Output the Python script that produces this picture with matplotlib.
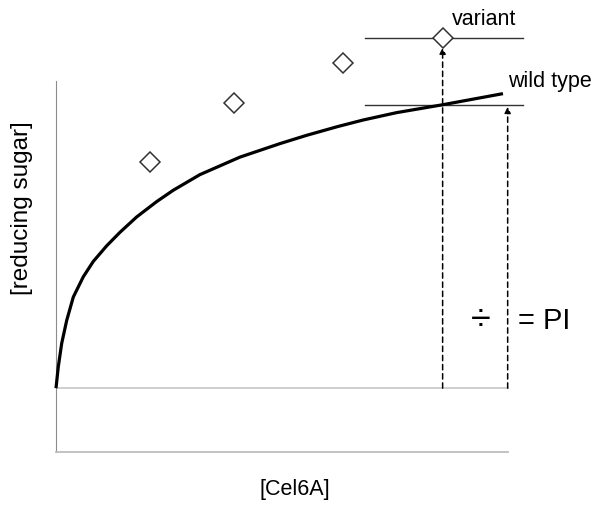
import numpy as np
import matplotlib.pyplot as plt

plt.rcParams['font.family'] = ['Liberation Sans', 'DejaVu Sans']

# wild type curve (arbitrary units)
wt_x = [0.0, 0.05, 0.126, 0.237, 0.383, 0.604, 0.825, 1.122, 1.416, 1.785,
        2.228, 2.595, 3.186, 4.071, 4.956, 5.546, 6.245, 6.799, 7.538, 8.569, 9.896]
wt_y = [0.0, 0.69, 1.46, 2.21, 2.97, 3.63, 4.13, 4.64, 5.08, 5.58,
        6.08, 6.45, 6.96, 7.53, 7.97, 8.24, 8.53, 8.74, 8.98, 9.24, 9.60]

# variant points
var_x = [2.08, 3.94, 6.35, 8.56]
var_y = [7.36, 9.28, 10.59, 11.4]

wt_level = 9.22
var_level = var_y[-1]
x_ref = var_x[-1]
x_end = 10.0

fig = plt.figure(figsize=(5.98, 5.08), dpi=100)
ax = fig.add_axes([56/598, 56/508, 542/598, 432/508])
ax.set_xlim(0, 12)
ax.set_ylim(-2.08, 12.0)

for s in ['top', 'right']:
    ax.spines[s].set_visible(False)
ax.spines['left'].set_bounds(-2.08, 10)
ax.spines['left'].set_color('#8c8c8c')
ax.spines['bottom'].set_bounds(0, x_end)
ax.spines['bottom'].set_color('#bdbdbd')
ax.spines['bottom'].set_linewidth(1.3)
ax.set_xticks([]), ax.set_yticks([])

# baseline
ax.plot([0, x_end], [0, 0], color='#cccccc', lw=1.3, zorder=1)

# wild type curve
ax.plot(wt_x, wt_y, color='black', lw=2.3, solid_capstyle='butt', solid_joinstyle='round',
        clip_on=False, zorder=3)

# level lines
ax.plot([6.84, 10.35], [var_level, var_level], color='#333333', lw=1, clip_on=False)
ax.plot([6.84, 10.35], [wt_level, wt_level], color='#333333', lw=1, clip_on=False)

# dashed arrows
for xx, top in [(x_ref, var_level - 0.3), (x_end, wt_level - 0.05)]:
    ax.annotate('', xy=(xx, top), xytext=(xx, 0),
                arrowprops=dict(arrowstyle='-|>', color='black', lw=1.1, ls=(0, (3.5, 2.5)),
                                mutation_scale=9, shrinkA=0, shrinkB=0),
                annotation_clip=False)

# variant diamonds
ax.plot(var_x, var_y, ls='none', marker='D', ms=10, mfc='white', mec='#333333', mew=1.1,
        clip_on=False, zorder=4)

ax.text(8.76, 12.0, 'variant', fontsize=15.5, ha='left', va='center')
ax.text(10.0, 9.98, 'wild type', fontsize=15.5, ha='left', va='center')
ax.text(9.4, 2.2, '\u00f7', fontsize=26, ha='center', va='center')
ax.text(10.22, 2.2, '= PI', fontsize=21, ha='left', va='center')

fig.text(22/598, 1 - 208/508, '[reducing sugar]', rotation=90, fontsize=17.5, ha='center', va='center')
fig.text(295/598, 1 - 490/508, '[Cel6A]', fontsize=15.5, ha='center', va='center')

fig.savefig('out.png', dpi=100)
